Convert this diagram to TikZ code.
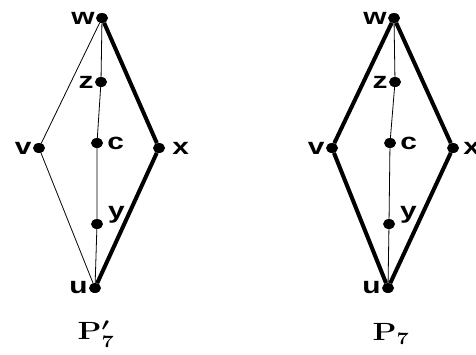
\documentclass[tikz,border=0pt]{standalone}
\usepackage{amsmath,amssymb,bm}
\usepackage{fontspec}
\newfontfamily\lblfont[FakeStretch=1.3]{Liberation Sans}
\usepackage{tikz}
\usetikzlibrary{shapes.geometric}
\tikzset{
  vtx/.style={ellipse,fill=black,inner sep=0pt,minimum width=12pt,minimum height=10pt},
  lbl/.style={font=\lblfont\bfseries\fontsize{23}{23}\selectfont,inner sep=1pt,label distance=0pt},
  thinedge/.style={line width=0.8pt},
  thickedge/.style={line width=4pt},
  gname/.style={font=\fontsize{22}{22}\selectfont},
}
\newcommand{\wide}[1]{\scalebox{1.5}[1.2]{#1}}
\begin{document}
\begin{tikzpicture}[x=1pt,y=-1pt]
\useasboundingbox (0,0) rectangle (476,354);
% left graph: P7'
\node[vtx,label={[lbl]left:w}] (lw) at (102,18) {};
\node[vtx,label={[lbl]left:z}] (lz) at (101,82) {};
\node[vtx,label={[lbl,label distance=3pt]right:c}] (lc) at (97,143) {};
\node[vtx,label={[lbl]left:v}] (lv) at (39,148) {};
\node[vtx,label={[lbl,label distance=6pt]right:x}] (lx) at (159,148) {};
\node[vtx,label={[lbl,xshift=6pt,yshift=-4pt]above right:y}] (ly) at (97,224) {};
\node[vtx,label={[lbl]left:u}] (lu) at (95,288) {};
\draw[thinedge] (lw) -- (lv) -- (lu);
\draw[thinedge] (lw) -- (lz) -- (lc) -- (ly) -- (lu);
\draw[thickedge] (lw) -- (lx) -- (lu);
\node[gname] (lname) at (96,334) {\wide{{\boldmath$\mathbf{P}^{\prime}_{\mathbf{7}}$}}};
% right graph: P7
\node[vtx,label={[lbl]left:w}] (rw) at (394,18) {};
\node[vtx,label={[lbl]left:z}] (rz) at (395,82) {};
\node[vtx,label={[lbl,label distance=3pt]right:c}] (rc) at (390,143) {};
\node[vtx,label={[lbl]left:v}] (rv) at (332,148) {};
\node[vtx,label={[lbl,label distance=3pt]right:x}] (rx) at (453,148) {};
\node[vtx,label={[lbl,xshift=6pt,yshift=-4pt]above right:y}] (ry) at (389,224) {};
\node[vtx,label={[lbl]left:u}] (ru) at (388,288) {};
\draw[thinedge] (rw) -- (rz) -- (rc) -- (ry) -- (ru);
\draw[thickedge] (rw) -- (rv) -- (ru);
\draw[thickedge] (rw) -- (rx) -- (ru);
\node[gname] (rname) at (391,334) {\wide{{\boldmath$\mathbf{P}_{\mathbf{7}}$}}};
\end{tikzpicture}
\end{document}
